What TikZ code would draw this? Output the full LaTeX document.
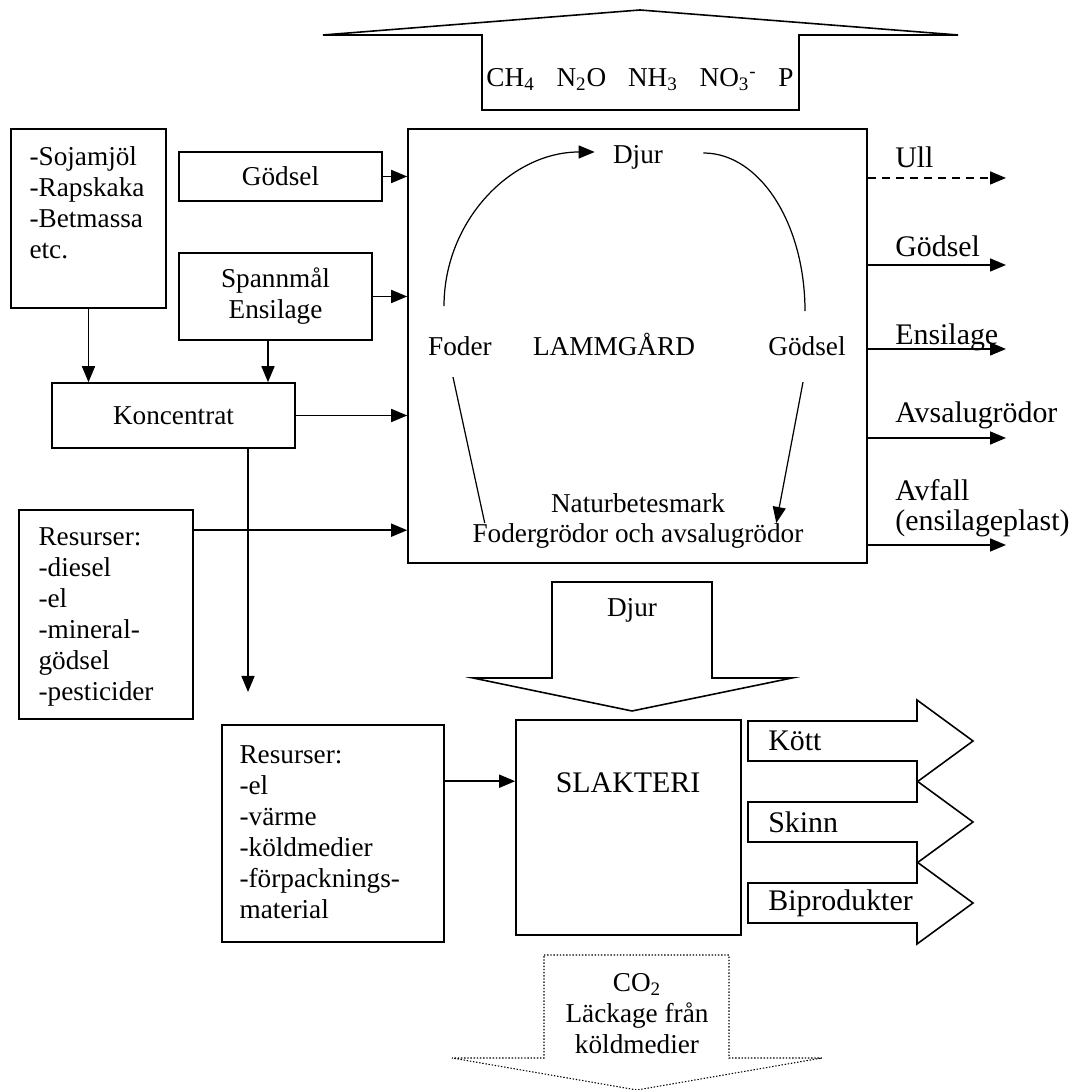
\documentclass[tikz,border=0pt]{standalone}
\usepackage{fontspec}
\setmainfont{Liberation Serif}
\usetikzlibrary{arrows.meta}
\begin{document}
\begin{tikzpicture}[
    box/.style={draw,line width=0.9pt,inner sep=0pt},
    txt/.style={inner sep=0pt,align=left},
    lbl/.style={inner sep=2pt},
    big/.style={font=\fontsize{17}{17.2}\selectfont},
    flow/.style={line width=0.9pt,-{Triangle[length=0.32cm,width=0.26cm]}},
    cyc/.style={line width=0.7pt},
    blockarr/.style={draw,fill=white,line width=0.9pt,line join=miter},
    every node/.style={font=\fontsize{15.5}{17.6}\selectfont}]
  \useasboundingbox (0,0) rectangle (21.4,21.8);
  % emissions
  \draw[blockarr] (9.64,19.6) -- (9.64,21.1) -- (6.46,21.1) -- (12.8,21.6)
    -- (19.16,21.1) -- (15.98,21.1) -- (15.98,19.6) -- cycle;
  \node (gas) at (12.8,20.2) {CH\textsubscript{4}\hspace{0.8em}N\textsubscript{2}O\hspace{0.8em}NH\textsubscript{3}\hspace{0.8em}NO\textsubscript{3}\textsuperscript{-}\hspace{0.8em}P};
  % the farm
  \node[box,minimum width=9.18cm,minimum height=8.68cm] (farm) at (12.75,14.88) {};
  \node[lbl] (djur) at (12.76,18.66) {Djur};
  \node[lbl,anchor=base] (foder) at (9.2,14.68) {Foder};
  \node[lbl,anchor=base] (lamm) at (12.28,14.68) {LAMMGÅRD};
  \node[lbl,anchor=base] (godsel) at (16.14,14.68) {Gödsel};
  \node[lbl,align=center] (mark) at (12.76,11.38) {Naturbetesmark\\Fodergrödor och avsalugrödor};
  \draw[cyc,-{Triangle[length=0.32cm,width=0.26cm]}] ([shift={(-0.32,0.54)}]foder.north)
    .. controls +(0,1.71) and +(-1.67,0) .. ([shift={(-0.29,0.1)}]djur.west);
  \draw[cyc] ([shift={(0.73,0.08)}]djur.east)
    .. controls +(1.13,0) and +(0,1.75) .. ([shift={(-0.04,0.44)}]godsel.north);
  \draw[cyc] ([shift={(-0.14,-0.34)}]foder.south) -- ([shift={(0.32,-0.04)}]mark.west);
  \draw[cyc,-{Triangle[length=0.32cm,width=0.26cm]}] ([shift={(-0.08,-0.44)}]godsel.south)
    -- ([shift={(-0.62,-0.04)}]mark.east);
  % inputs
  \node[box,minimum width=3.1cm,minimum height=3.58cm] (feedbox) at (1.77,17.43) {};
  \node[txt,anchor=north west] (feedtxt) at ([shift={(0.38,-0.36)}]feedbox.north west)
    {-Sojamjöl\\-Rapskaka\\-Betmassa\\etc.};
  \node[box,minimum width=4.06cm,minimum height=0.98cm] (manurein) at (5.61,18.27) {Gödsel};
  \node[box,minimum width=3.86cm,minimum height=1.74cm,align=center] (grain) at (5.51,15.87) {Spannmål\\Ensilage};
  \node[box,minimum width=4.86cm,minimum height=1.3cm] (conc) at (3.47,13.49) {Koncentrat};
  \node[box,minimum width=3.48cm,minimum height=4.18cm] (res1) at (2.12,9.51) {};
  \node[txt,anchor=north west] (res1txt) at ([shift={(0.4,-0.36)}]res1.north west)
    {Resurser:\\-diesel\\-el\\-mineral-\\gödsel\\-pesticider};
  \coordinate (concend) at (4.96,7.96);
  \coordinate (grainout) at ([xshift=-0.15cm]grain.south);
  \coordinate (res1out) at ([yshift=-0.42cm]res1.north east);
  \draw[flow] (manurein.east) -- (manurein.east -| farm.west);
  \draw[flow] (grain.east) -- (grain.east -| farm.west);
  \draw[flow] (conc.east) -- (conc.east -| farm.west);
  \draw[flow] (res1out) -- (res1out -| farm.west);
  \draw[flow] (feedbox.south) -- (feedbox.south |- conc.north);
  \draw[flow] (grainout) -- (grainout |- conc.north);
  \draw[flow] (concend |- conc.south) -- (concend);
  % outputs
  \foreach \y/\nm in {18.24/ull,16.5/gout,14.82/eout,13.04/aout,10.9/fout}
    \coordinate (\nm) at (20.12,\y);
  \draw[flow,dash pattern=on 4.5pt off 3.5pt] (farm.east |- ull) -- (ull);
  \foreach \nm in {gout,eout,aout,fout}
    \draw[flow] (farm.east |- \nm) -- (\nm);
  \node[big,txt,anchor=west] (ulltxt) at (17.9,18.66) {Ull};
  \node[big,txt,anchor=west] (gtxt) at (17.9,16.88) {Gödsel};
  \node[big,txt,anchor=west] (etxt) at (17.9,15.06) {Ensilage};
  \node[big,txt,anchor=west] (atxt) at (17.9,13.5) {Avsalugrödor};
  \node[big,txt,anchor=west] (ftxt) at (17.9,11.64) {Avfall\\(ensilageplast)};
  % animals to the slaughterhouse
  \draw[blockarr] (11.04,10.16) -- (14.24,10.16) -- (14.24,8.24) -- (15.84,8.24)
    -- (12.64,7.58) -- (9.46,8.24) -- (11.04,8.24) -- cycle;
  \node (djur2) at (12.64,9.6) {Djur};
  \node[box,minimum width=4.5cm,minimum height=4.3cm] (slak) at (12.57,5.25) {};
  \node[big] (slaktxt) at (12.56,6.14) {SLAKTERI};
  \node[box,minimum width=4.44cm,minimum height=4.34cm] (res2) at (6.66,5.13) {};
  \node[txt,anchor=north west] (res2txt) at ([shift={(0.36,-0.42)}]res2.north west)
    {Resurser:\\-el\\-värme\\-köldmedier\\-förpacknings-\\material};
  \coordinate (res2out) at ([yshift=-1.14cm]res2.north east);
  \draw[flow] (res2out) -- (res2out -| slak.west);
  \foreach \c/\nm/\lab in {6.98/kott/Kött,5.36/skinn/Skinn,3.74/bipr/Biprodukter}{
    \draw[blockarr] (14.96,\c+0.4) -- (18.34,\c+0.4) -- (18.34,\c+0.82) -- (19.46,\c)
      -- (18.34,\c-0.82) -- (18.34,\c-0.4) -- (14.96,\c-0.4) -- cycle;
    \node[big,txt,anchor=west] (\nm) at (15.36,\c) {\lab};
  }
  % leakage
  \draw[blockarr,line width=0.6pt,dash pattern=on 0.8pt off 1pt] (10.88,2.7) -- (14.58,2.7)
    -- (14.58,0.64) -- (16.44,0.64) -- (12.74,0) -- (9.04,0.64) -- (10.88,0.64) -- cycle;
  \node[align=center] (co2) at (12.74,1.52) {CO\textsubscript{2}\\Läckage från\\köldmedier};
\end{tikzpicture}
\end{document}
